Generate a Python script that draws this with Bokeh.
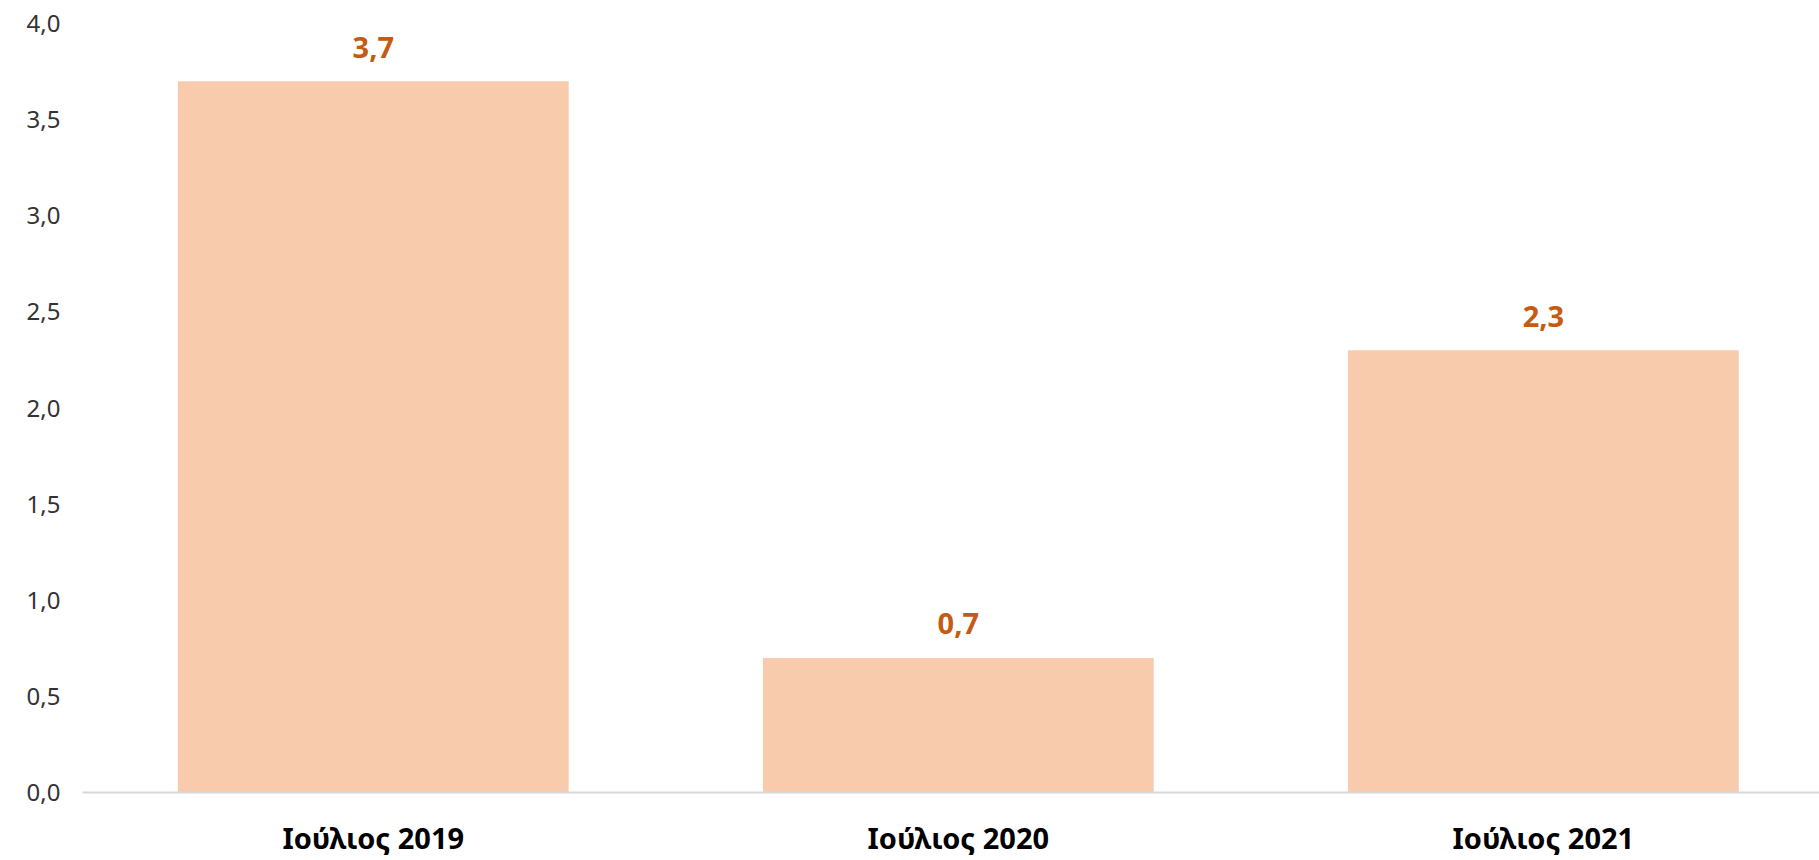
from bokeh.plotting import figure
from bokeh.models import ColumnDataSource, FixedTicker, Range1d, LabelSet
from bokeh.core.properties import value
from bokeh.embed import file_html
from bokeh.resources import INLINE

categories = ["Ιούλιος 2019", "Ιούλιος 2020", "Ιούλιος 2021"]
values = [3.7, 0.7, 2.3]
y_ticks = [0.0, 0.5, 1.0, 1.5, 2.0, 2.5, 3.0, 3.5, 4.0]

xs = list(range(len(categories)))
labels = [f"{v:.1f}".replace(".", ",") for v in values]
src = ColumnDataSource(dict(x=xs, top=values, label=labels))

p = figure(width=1819, height=860, output_backend="svg", toolbar_location=None,
           x_range=Range1d(-0.497, 2.472), y_range=Range1d(0, 4.0),
           min_border_left=82, min_border_right=0, min_border_top=23, min_border_bottom=68)
p.outline_line_color = None
p.background_fill_color = "white"
p.border_fill_color = "white"
p.grid.visible = False

p.vbar(x="x", top="top", width=0.668, bottom=0, source=src,
       fill_color="#F8CBAD", line_color=None)

lab = LabelSet(x="x", y="top", text="label", source=src, y_offset=34,
               text_align="center", text_baseline="middle",
               text_font=value("Noto Sans"), text_font_style="bold", text_font_size="29px",
               text_color="#C55A11")
p.add_layout(lab)

fmt = "Noto Sans"
p.yaxis.ticker = FixedTicker(ticks=y_ticks)
p.yaxis.major_label_overrides = {t: f"{t:.1f}".replace(".", ",") for t in y_ticks}
p.yaxis.axis_line_color = None
p.yaxis.major_tick_line_color = None
p.yaxis.minor_tick_line_color = None
p.yaxis.major_label_standoff = 16
p.yaxis.major_label_text_font = fmt
p.yaxis.major_label_text_font_size = "24px"
p.yaxis.major_label_text_color = "#333333"

p.xaxis.ticker = FixedTicker(ticks=xs)
p.xaxis.major_label_overrides = {i: c for i, c in zip(xs, categories)}
p.xaxis.axis_line_color = "#D9D9D9"
p.xaxis.axis_line_width = 2
p.xaxis.major_tick_line_color = None
p.xaxis.minor_tick_line_color = None
p.xaxis.major_label_standoff = 19
p.xaxis.major_label_text_font = fmt
p.xaxis.major_label_text_font_style = "bold"
p.xaxis.major_label_text_font_size = "29px"
p.xaxis.major_label_text_color = "#000000"

open("out.html", "w").write(file_html(p, INLINE))
